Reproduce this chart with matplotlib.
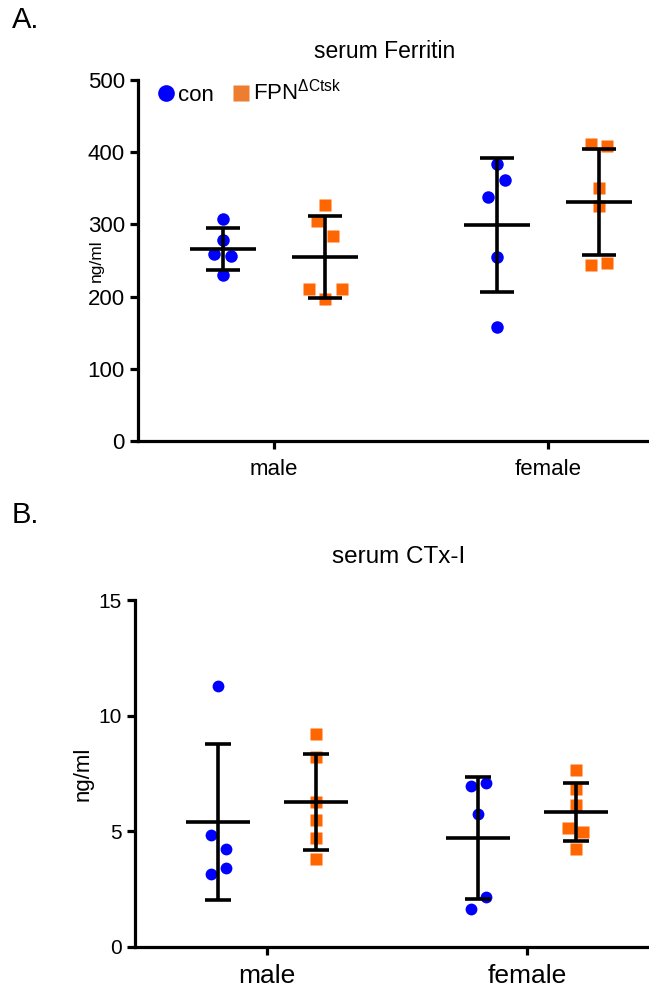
import numpy as np
import matplotlib
matplotlib.use("Agg")
import matplotlib.pyplot as plt
from matplotlib.lines import Line2D

plt.rcParams['font.family'] = ['Liberation Sans', 'DejaVu Sans']
plt.rcParams['mathtext.fontset'] = 'custom'
plt.rcParams['mathtext.rm'] = 'Liberation Sans'

# ---------------------------------------------------------------
# data
# ---------------------------------------------------------------
groups = ['male', 'female']

# A. serum Ferritin (ng/ml)
fer_con_male = [307, 278, 259, 256, 230]
fer_fpn_male = [327, 305, 284, 210, 210, 196]
fer_con_female = [383, 361, 338, 255, 158]
fer_fpn_female = [411, 408, 350, 326, 244, 247]

# B. serum CTx-I (ng/ml)
ctx_con_male = [11.3, 4.83, 4.25, 3.43, 3.17]
ctx_fpn_male = [9.21, 8.2, 6.26, 5.47, 4.73, 3.82]
ctx_con_female = [6.98, 7.08, 5.76, 2.14, 1.64]
ctx_fpn_female = [7.63, 6.84, 6.12, 5.16, 4.97, 4.25]

# horizontal scatter of the dots (in steps)
jit_fer = [[0, 0, -1, 1, 0], [0, -1, 1, -2, 2, 0],
           [0, 1, -1, 0, 0], [-1, 1, 0, 0, -1, 1]]
jit_ctx = [[0, -1, 1, 1, -1], [0, 0, 0, 0, 0, 0],
           [-1, 1, 0, 1, -1], [0, 0, 0, -1, 1, 0]]

BLUE = '#0000FF'
ORANGE = '#FF6600'
OFF = 0.187


def draw_panel(ax, series, jitters, step, ms, capsize, halfw):
    pos = [-OFF, OFF, 1 - OFF, 1 + OFF]
    styles = [('o', BLUE), ('s', ORANGE), ('o', BLUE), ('s', ORANGE)]
    for x0, vals, jit, (mk, col) in zip(pos, series, jitters, styles):
        vals = np.array(vals, dtype=float)
        xs = x0 + np.array(jit) * step
        ax.plot(xs, vals, mk, color=col, ms=ms, mec='none', ls='none', zorder=2)
        m = vals.mean()
        sd = vals.std(ddof=1)
        ax.errorbar(x0, m, yerr=sd, fmt='none', ecolor='black', elinewidth=2.6,
                    capsize=capsize, capthick=2.6, zorder=3)
        ax.hlines(m, x0 - halfw, x0 + halfw, color='black', lw=2.6, zorder=3)
    for s in ['top', 'right']:
        ax.spines[s].set_visible(False)
    for s in ['left', 'bottom']:
        ax.spines[s].set_linewidth(2.3)
    ax.tick_params(width=2.3, length=6, color='black')
    ax.set_xticks([0, 1])
    ax.set_xticklabels(groups)


fig = plt.figure(figsize=(6.49, 9.93), dpi=100)
W, H = 649, 993

# ---------------- panel A ----------------
axA = fig.add_axes([138 / W, 1 - 441 / H, 1 - 138 / W, 361 / H])
draw_panel(axA, [fer_con_male, fer_fpn_male, fer_con_female, fer_fpn_female],
           jit_fer, 0.03, 9, 12, 0.12)
axA.set_xlim(-0.496, 1.369)
axA.set_ylim(0, 500)
axA.set_yticks([0, 100, 200, 300, 400, 500])
axA.tick_params(axis='both', labelsize=16)
axA.tick_params(axis='x', pad=7)
axA.set_ylabel('ng/ml', fontsize=12.5)
axA.yaxis.set_label_coords(-0.066, 0.5)

handles = [Line2D([], [], marker='o', color=BLUE, ls='none', ms=12, mec='none'),
           Line2D([], [], marker='s', color='#ED7D31', ls='none', ms=12, mec='none')]
fig.legend(handles, ['con', r'FPN$^{\mathregular{\Delta Ctsk}}$'],
           loc='center left', bbox_to_anchor=(155 / W, 1 - 93 / H), ncol=2,
           frameon=False, fontsize=16, handletextpad=0.05, columnspacing=0.7,
           handlelength=1.0, borderpad=0, borderaxespad=0)

fig.text(12 / W, 1 - 20 / H, 'A.', fontsize=21, va='center', ha='left')
fig.text(385 / W, 1 - 52 / H, 'serum Ferritin', fontsize=16.5, va='center', ha='center')

# ---------------- panel B ----------------
axB = fig.add_axes([135 / W, 1 - 947 / H, 1 - 135 / W, 347 / H])
draw_panel(axB, [ctx_con_male, ctx_fpn_male, ctx_con_female, ctx_fpn_female],
           jit_ctx, 0.03, 8.5, 9.5, 0.123)
axB.set_xlim(-0.508, 1.469)
axB.set_ylim(0, 15)
axB.set_yticks([0, 5, 10, 15])
axB.tick_params(axis='y', labelsize=15)
axB.tick_params(axis='x', labelsize=19, pad=6)
axB.set_ylabel('ng/ml', fontsize=16)
axB.yaxis.set_label_coords(-0.08, 0.5)

fig.text(12 / W, 1 - 515 / H, 'B.', fontsize=21, va='center', ha='left')
fig.text(399 / W, 1 - 557 / H, 'serum CTx-I', fontsize=17.5, va='center', ha='center')

fig.savefig('out.png', dpi=100)
